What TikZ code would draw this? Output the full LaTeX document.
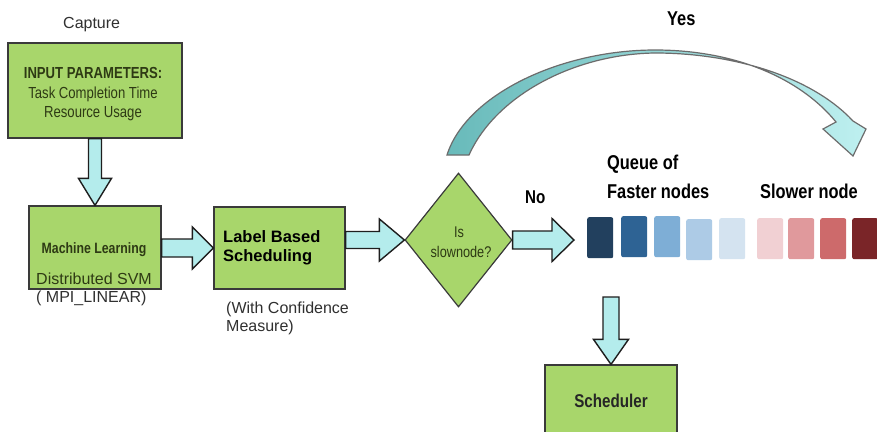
\documentclass[tikz,border=0pt]{standalone}
\usepackage{fontspec}
\setmainfont{Liberation Sans}
\newfontfamily\narrowf[FakeStretch=0.82]{Liberation Sans}
\usetikzlibrary{shapes.geometric,calc}
\definecolor{boxgreen}{HTML}{A8D66B}
\definecolor{boxline}{HTML}{3A3A3A}
\definecolor{arrcyan}{HTML}{B4ECEC}
\definecolor{arrline}{HTML}{1E1E1E}
\definecolor{gtext}{HTML}{2E3A14}
\definecolor{ttext}{HTML}{303030}
\definecolor{yesL}{HTML}{68BABA}
\definecolor{yesR}{HTML}{BEF0F0}
\definecolor{qa}{HTML}{22405E}
\definecolor{qb}{HTML}{2E6394}
\definecolor{qc}{HTML}{7EAED6}
\definecolor{qd}{HTML}{ADCBE6}
\definecolor{qe}{HTML}{D4E3F0}
\definecolor{qf}{HTML}{F1D0D3}
\definecolor{qg}{HTML}{E0999C}
\definecolor{qh}{HTML}{CD6A6B}
\definecolor{qi}{HTML}{7A2528}
\tikzset{
  gbox/.style={draw=boxline, fill=boxgreen, line width=1.2pt, inner sep=0pt},
  barrow/.style={draw=arrline, fill=arrcyan, line width=1.4pt, line join=miter},
  qbox/.style={rounded corners=2pt, minimum width=26pt, minimum height=41pt, inner sep=0pt},
  plain/.style={inner sep=0pt, text=ttext, font=\fontsize{16}{19}\selectfont},
  gtxt/.style={inner sep=0pt, text=gtext},
  htxt/.style={inner sep=0pt, text=black, font=\narrowf\bfseries\fontsize{20}{24}\selectfont}
}
\newcommand\hbarrow[5]{\draw[barrow] let \p1=(#1), \p2=(#2) in
  (\x1,\y2+#3) -- (\x2-#5,\y2+#3) -- (\x2-#5,\y2+#4) -- (\x2,\y2) --
  (\x2-#5,\y2-#4) -- (\x2-#5,\y2-#3) -- (\x1,\y2-#3) -- cycle;}
\newcommand\vbarrow[5]{\draw[barrow] let \p1=(#1), \p2=(#2) in
  (\x2-#3,\y1) -- (\x2-#3,\y2+#5) -- (\x2-#4,\y2+#5) -- (\x2,\y2) --
  (\x2+#4,\y2+#5) -- (\x2+#3,\y2+#5) -- (\x2+#3,\y1) -- cycle;}
\begin{document}
\begin{tikzpicture}[x=1pt,y=-1pt]
\useasboundingbox[fill=white] (0,0) rectangle (877,431);

% curved Yes arrow
\path[draw=gray!85!black, line width=1.2pt, left color=yesL, right color=yesR, line join=miter]
  (447,155) .. controls (466,95) and (560,50) .. (655,50)
  .. controls (735,50) and (800,78) .. (836,122)
  -- (823,129) -- (853,156) -- (866,129) -- (853,121)
  .. controls (810,75) and (730,53) .. (655,53)
  .. controls (575,54) and (496,95) .. (469,155) -- cycle;
\node[htxt, anchor=base west] (yes) at (667,25) {Yes};

% boxes
\node[gbox, minimum width=174pt, minimum height=95pt] (inp) at (95,90.5) {};
\node[gbox, minimum width=132pt, minimum height=83pt] (ml) at (95,247.5) {};
\node[gbox, minimum width=131pt, minimum height=82pt] (lbs) at (279.5,248) {};
\node[gbox, diamond, minimum width=107pt, minimum height=134pt] (dia) at (458.5,240) {};
\node[gbox, minimum width=132pt, minimum height=80pt] (sch) at (611,405) {};

% texts
\node[plain, anchor=base west] (cap) at (63,28) {Capture};
\node[gtxt, anchor=base, font=\narrowf\bfseries\fontsize{16}{19}\selectfont] (inp1) at (93,78) {INPUT PARAMETERS:};
\node[gtxt, anchor=base, font=\narrowf\fontsize{16}{19}\selectfont] (inp2) at (93,98) {Task Completion Time};
\node[gtxt, anchor=base, font=\narrowf\fontsize{16}{19}\selectfont] (inp3) at (93,117) {Resource Usage};
\node[gtxt, anchor=base, font=\narrowf\bfseries\fontsize{15}{18}\selectfont] (ml1) at (94,253) {Machine Learning};
\node[plain, anchor=base west, text=gtext] (ml2) at (36,284) {Distributed SVM};
\node[plain, anchor=base west] (ml3) at (36,302) {( MPI\_LINEAR)};
\node[inner sep=0pt, anchor=base west, font=\bfseries\fontsize{16.5}{19}\selectfont] (lb1) at (223,242) {Label Based};
\node[inner sep=0pt, anchor=base west, font=\bfseries\fontsize{16.5}{19}\selectfont] (lb2) at (223,261) {Scheduling};
\node[plain, anchor=base west] (wc1) at (226,313) {(With Confidence};
\node[plain, anchor=base west] (wc2) at (226,331) {Measure)};
\node[gtxt, anchor=base, font=\narrowf\fontsize{15.5}{18}\selectfont] (is1) at (459,237) {Is};
\node[gtxt, anchor=base, font=\narrowf\fontsize{15.5}{18}\selectfont] (is2) at (461,257) {slownode?};
\node[htxt, anchor=base west, font=\narrowf\bfseries\fontsize{18.5}{21}\selectfont] (no) at (525,203) {No};
\node[htxt, anchor=base west] (qt1) at (607,169) {Queue of};
\node[htxt, anchor=base west] (qt2) at (607,198) {Faster nodes};
\node[htxt, anchor=base west] (slow) at (760,198) {Slower node};
\node[inner sep=0pt, anchor=base, font=\narrowf\bfseries\fontsize{18.5}{21}\selectfont, text=black!85] (scht) at (611,407) {Scheduler};

% queue squares
\node[qbox, fill=qa, anchor=north west] (q1) at (587,217) {};
\node[qbox, fill=qb, anchor=north west] (q2) at (621,216) {};
\node[qbox, fill=qc, anchor=north west] (q3) at (654,216) {};
\node[qbox, fill=qd, anchor=north west] (q4) at (686,219) {};
\node[qbox, fill=qe, anchor=north west] (q5) at (719,218) {};
\node[qbox, fill=qf, anchor=north west] (q6) at (757,218) {};
\node[qbox, fill=qg, anchor=north west] (q7) at (788,218) {};
\node[qbox, fill=qh, anchor=north west] (q8) at (820,218) {};
\node[qbox, fill=qi, anchor=north west] (q9) at (852,218) {};

\coordinate (qin) at (574,240);
\coordinate (sin) at (610,297);

% block arrows
\vbarrow{inp.south}{ml.north}{6.5pt}{16.5pt}{27pt}
\hbarrow{ml.east}{lbs.west}{9pt}{21pt}{21pt}
\hbarrow{lbs.east}{dia.west}{8.5pt}{21pt}{25pt}
\hbarrow{dia.east}{qin}{9pt}{21.5pt}{22pt}
\vbarrow{sin}{sch.north}{8pt}{17.5pt}{25pt}
\end{tikzpicture}
\end{document}
